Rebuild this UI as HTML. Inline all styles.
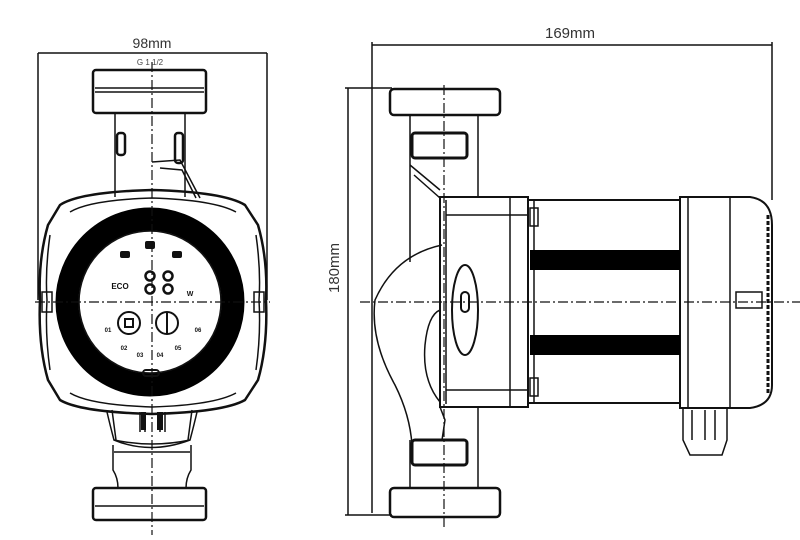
<!DOCTYPE html>
<html><head><meta charset="utf-8"><style>
html,body{margin:0;padding:0;background:#fff;}
svg{display:block;font-family:"Liberation Sans",sans-serif;}
</style></head><body>
<svg width="800" height="540" viewBox="0 0 800 540" xmlns="http://www.w3.org/2000/svg">
<g fill="none" stroke="#111" stroke-width="1.5">
<line x1="38" y1="53" x2="267" y2="53"/>
<line x1="38" y1="53" x2="38" y2="300"/>
<line x1="267" y1="53" x2="267" y2="300"/>
<rect x="93" y="70" width="113" height="43" rx="3" stroke-width="2.5"/>
<line x1="95" y1="88" x2="204" y2="88"/>
<line x1="95" y1="92" x2="204" y2="92"/>
<path d="M115 114 V197 M185 114 V197"/>
<rect x="117" y="133" width="8" height="22" rx="3" stroke-width="2.5"/>
<rect x="175" y="133" width="8" height="30" rx="3" stroke-width="2.5"/>
<path d="M152 162 L180 160 L200 198 M160 168 L182 170 L196 198"/>
<path d="M60 205 Q80 192 152 190 Q224 192 245 205 L258 225 Q268 260 266 300 Q268 345 258 380 L245 400 Q224 412 152 414 Q80 412 60 400 L48 380 Q38 345 40 300 Q38 260 48 225 Z" stroke-width="2.5"/>
<path d="M70 212 Q90 200 152 198 Q214 200 236 212 M70 393 Q90 405 152 407 Q214 405 236 393"/>
<path d="M50 235 Q45 270 47 300 Q45 335 50 370 M256 235 Q261 270 259 300 Q261 335 256 370"/>
<rect x="42" y="292" width="10" height="20"/>
<rect x="254" y="292" width="10" height="20"/>
<circle cx="150" cy="302" r="83" stroke="#000" stroke-width="23"/>
<circle cx="150" cy="302" r="71" stroke-width="1.5"/>
<!-- bottom neck -->
<path d="M107 412 Q110 425 114 440 Q152 448 190 440 Q194 425 197 412"/>
<path d="M112 410 L116 440 M192 410 L188 440 M114 440 Q150 455 190 440"/>
<path d="M113 445 V470 Q118 478 118 488 M191 445 V470 Q186 478 186 488 M114 452 H190"/>
<path d="M140 412 V432 M145 412 V432 M160 412 V432 M165 412 V432"/>
<rect x="141" y="412" width="5" height="18" fill="#111" stroke="none"/>
<rect x="157" y="412" width="6" height="18" fill="#111" stroke="none"/>
<rect x="93" y="488" width="113" height="32" rx="3" stroke-width="2.5"/>
<line x1="95" y1="506" x2="204" y2="506"/>
</g>
<g fill="#111" font-weight="bold" font-size="8" text-anchor="middle">
<rect x="145" y="241" width="10" height="8" rx="2"/>
<rect x="120" y="251" width="10" height="7" rx="2"/>
<rect x="172" y="251" width="10" height="7" rx="2"/>
<text x="120" y="289">ECO</text>
<text x="190" y="296" font-size="7">W</text>
<text x="108" y="332" font-size="6">01</text>
<text x="124" y="350" font-size="6">02</text>
<text x="140" y="357" font-size="6">03</text>
<text x="160" y="357" font-size="6">04</text>
<text x="178" y="350" font-size="6">05</text>
<text x="198" y="332" font-size="6">06</text>
</g>
<g fill="none" stroke="#111" stroke-width="2.5">
<circle cx="150" cy="276" r="4.5"/><circle cx="150" cy="289" r="4.5"/>
<circle cx="168" cy="276" r="4.5"/><circle cx="168" cy="289" r="4.5"/>
</g>
<g fill="none" stroke="#111" stroke-width="2">
<circle cx="129" cy="323" r="11"/><rect x="125" y="319" width="8" height="8"/>
<circle cx="167" cy="323" r="11"/><line x1="167" y1="313" x2="167" y2="333"/>
<rect x="143" y="370" width="16" height="6" rx="3"/>
</g>
<g stroke="#111" stroke-width="1.2" stroke-dasharray="10 3 2 3" fill="none">
<line x1="152" y1="62" x2="152" y2="535"/>
<line x1="35" y1="302" x2="270" y2="302"/>
<line x1="360" y1="302" x2="800" y2="302"/>
<line x1="444" y1="85" x2="444" y2="530"/>
</g>
<text x="152" y="48" font-size="14" text-anchor="middle" fill="#333">98mm</text>
<text x="150" y="65" font-size="8" text-anchor="middle" fill="#444">G 1 1/2</text>
<g fill="none" stroke="#111" stroke-width="1.5">
<line x1="372" y1="45" x2="772" y2="45"/>
<line x1="372" y1="42" x2="372" y2="513"/>
<line x1="772" y1="42" x2="772" y2="200"/>
<line x1="348" y1="88" x2="348" y2="515"/>
<line x1="345" y1="88" x2="392" y2="88"/>
<line x1="345" y1="515" x2="392" y2="515"/>
<rect x="390" y="89" width="110" height="26" rx="4" stroke-width="2.5"/>
<rect x="390" y="488" width="110" height="29" rx="4" stroke-width="2.5"/>
<path d="M410 115 V262 M478 115 V197 M478 407 V488 M410 440 V488"/>
<rect x="412" y="133" width="55" height="25" rx="3" stroke-width="3"/>
<rect x="412" y="440" width="55" height="25" rx="3" stroke-width="3"/>
<path d="M410 165 L440 190 M414 175 L440 198"/>
<path d="M442 245 Q395 255 375 300 Q370 340 395 385 Q410 415 412 445"/>
<path d="M440 310 Q428 315 425 345 Q422 380 440 402"/>
<path d="M440 407 L445 420 L442 440"/>
<rect x="440" y="197" width="88" height="210" stroke-width="2"/>
<line x1="446" y1="200" x2="446" y2="404"/>
<line x1="446" y1="215" x2="528" y2="215"/>
<line x1="446" y1="390" x2="528" y2="390"/>
<line x1="510" y1="197" x2="510" y2="407"/>
<ellipse cx="465" cy="310" rx="13" ry="45" stroke-width="2"/>
<rect x="461" y="292" width="8" height="20" rx="4" stroke-width="2"/>
<rect x="528" y="200" width="152" height="203" stroke-width="2"/>
<line x1="534" y1="200" x2="534" y2="403"/>
<rect x="530" y="208" width="8" height="18"/>
<rect x="530" y="378" width="8" height="18"/>
<path d="M680 197 H750 Q772 200 772 225 V385 Q772 405 750 408 H680 Z" stroke-width="2"/>
<line x1="688" y1="197" x2="688" y2="408"/>
<line x1="730" y1="197" x2="730" y2="408"/>
<path d="M768 215 V395" stroke-width="3" stroke-dasharray="4 2"/>
<rect x="736" y="292" width="26" height="16"/>
<path d="M683 408 V440 L690 455 H722 L727 440 V408 M692 410 V440 M705 410 V440 M715 410 V440"/>
</g>
<rect x="530" y="250" width="150" height="20" fill="#000"/>
<rect x="530" y="335" width="150" height="20" fill="#000"/>
<text x="570" y="38" font-size="15" text-anchor="middle" fill="#333">169mm</text>
<text transform="translate(339,268) rotate(-90)" font-size="15" text-anchor="middle" fill="#333">180mm</text>
</svg>
</body></html>
